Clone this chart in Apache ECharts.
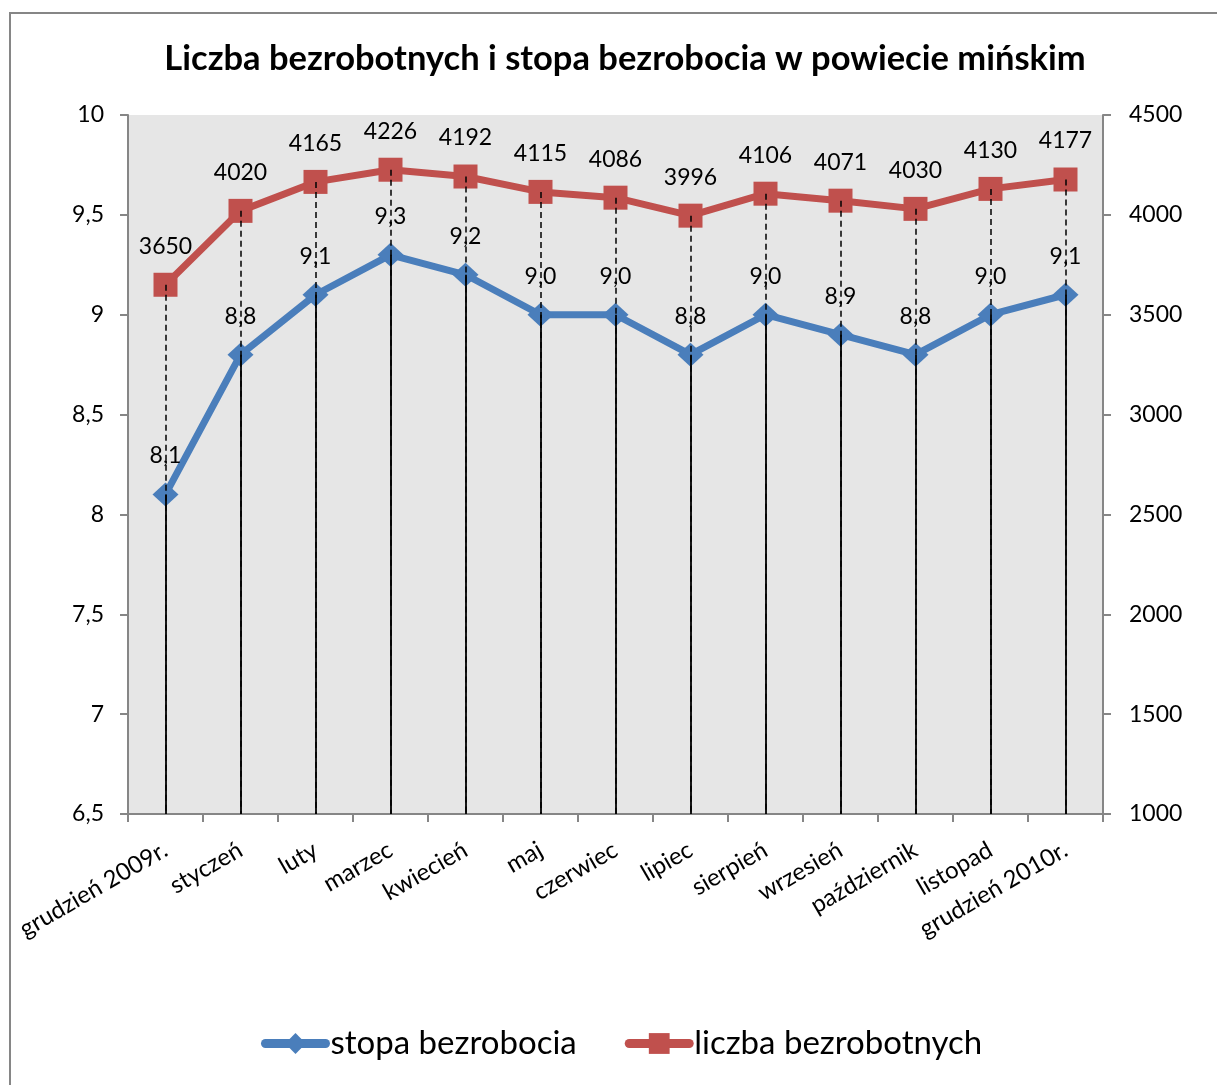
<!DOCTYPE html>
<html>
<head>
<meta charset="utf-8">
<script src="https://cdn.jsdelivr.net/npm/echarts@6/dist/echarts.min.js"></script>
<style>
html,body{margin:0;padding:0;background:#fff;}
#c{width:1217px;height:1085px;}
</style>
</head>
<body>
<div id="c"></div>
<script>
const categories = ['grudzień 2009r.','styczeń','luty','marzec','kwiecień','maj','czerwiec','lipiec','sierpień','wrzesień','październik','listopad','grudzień 2010r.'];
const stopa = [8.1, 8.8, 9.1, 9.3, 9.2, 9.0, 9.0, 8.8, 9.0, 8.9, 8.8, 9.0, 9.1];
const liczba = [3650, 4020, 4165, 4226, 4192, 4115, 4086, 3996, 4106, 4071, 4030, 4130, 4177];
const leftTicks = {min: 6.5, max: 10, interval: 0.5};
const rightTicks = {min: 1000, max: 4500, interval: 500};

const FONT = 'Lato';
const chart = echarts.init(document.getElementById('c'), null, {renderer: 'canvas'});
const fmtComma = v => String(v).replace('.', ',');

const option = {
  backgroundColor: '#fff',
  textStyle: {fontFamily: FONT},
  animation: false,
  graphic: [{
    type: 'polyline',
    shape: {points: [[10, 1090], [10, 13], [1220, 13]]},
    style: {stroke: '#868686', lineWidth: 2, fill: null},
    z: 0
  }],
  title: {
    text: 'Liczba bezrobotnych i stopa bezrobocia w powiecie mińskim',
    left: 620, top: 36, textAlign: 'center',
    textStyle: {fontFamily: FONT, fontWeight: 'bold', fontSize: 34.5, color: '#000'}
  },
  legend: {
    bottom: 20, left: 256,
    itemWidth: 60, itemHeight: 26, itemGap: 48,
    lineStyle: {width: 9, cap: 'round'},
    textStyle: {fontFamily: FONT, fontSize: 33, color: '#000'},
    data: ['stopa bezrobocia', 'liczba bezrobotnych']
  },
  grid: {
    left: 128, right: 114, top: 115, bottom: 271,
    show: true, backgroundColor: '#E6E6E6', borderWidth: 0
  },
  xAxis: {
    type: 'category', data: categories, boundaryGap: true,
    axisLine: {lineStyle: {color: '#868686', width: 2}},
    axisTick: {show: true, length: 8, lineStyle: {color: '#868686', width: 2}},
    axisLabel: {rotate: 30, fontSize: 24, color: '#000', margin: 34, fontFamily: FONT, interval: 0}
  },
  yAxis: [{
    type: 'value', position: 'left',
    min: leftTicks.min, max: leftTicks.max, interval: leftTicks.interval,
    axisLine: {show: true, lineStyle: {color: '#868686', width: 2}},
    axisTick: {show: true, length: 8, lineStyle: {color: '#868686', width: 2}},
    splitLine: {show: false},
    axisLabel: {fontSize: 23, color: '#000', margin: 24, fontFamily: FONT, formatter: v => fmtComma(v)}
  }, {
    type: 'value', position: 'right',
    min: rightTicks.min, max: rightTicks.max, interval: rightTicks.interval,
    axisLine: {show: true, lineStyle: {color: '#868686', width: 2}},
    axisTick: {show: true, length: 8, lineStyle: {color: '#868686', width: 2}},
    splitLine: {show: false},
    axisLabel: {fontSize: 23, color: '#000', margin: 26, fontFamily: FONT, formatter: v => String(v)}
  }],
  series: [{
    name: 'liczba bezrobotnych', type: 'line', yAxisIndex: 1, data: liczba,
    symbol: 'rect', symbolSize: 24,
    lineStyle: {color: '#C0504D', width: 7},
    itemStyle: {color: '#C0504D'},
    label: {show: true, position: 'top', distance: 15, fontSize: 23, color: '#000', fontFamily: FONT},
    z: 2,
    markLine: {
      silent: true, symbol: 'none', animation: false, z: 5,
      label: {show: false},
      lineStyle: {color: '#000', width: 1.5, type: [6, 4]},
      data: liczba.map((v, i) => [{coord: [i, v]}, {coord: [i, rightTicks.min]}])
    }
  }, {
    name: 'stopa bezrobocia', type: 'line', yAxisIndex: 0, data: stopa,
    symbol: 'diamond', symbolSize: [26, 24],
    lineStyle: {color: '#4A7EBB', width: 7},
    itemStyle: {color: '#4A7EBB'},
    label: {show: true, position: 'top', distance: 15, fontSize: 23, color: '#000', fontFamily: FONT,
      formatter: p => p.value.toFixed(1).replace('.', ',')},
    z: 3,
    markLine: {
      silent: true, symbol: 'none', animation: false, z: 7,
      label: {show: false},
      lineStyle: {color: '#000', width: 1.8, type: 'solid'},
      data: stopa.map((v, i) => [{coord: [i, v]}, {coord: [i, leftTicks.min]}])
    }
  }]
};
chart.setOption(option);
</script>
</body>
</html>
